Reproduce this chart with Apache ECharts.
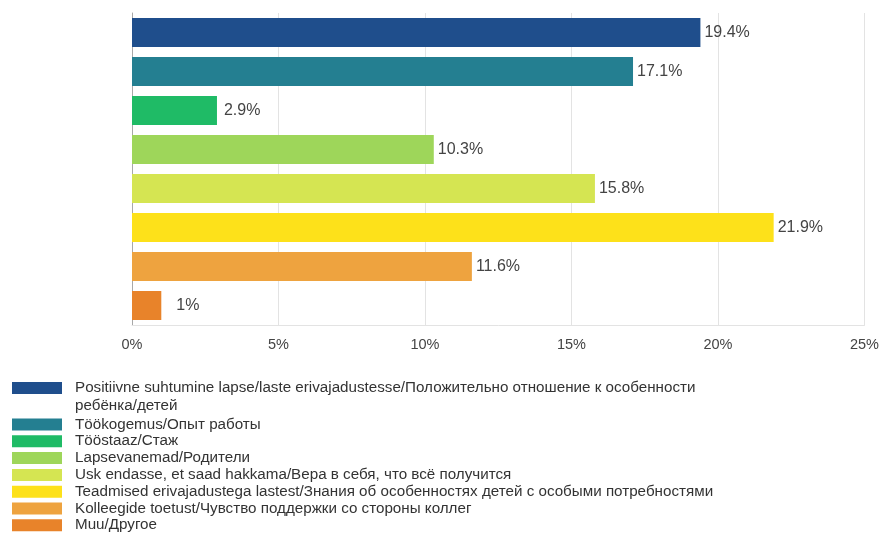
<!DOCTYPE html>
<html>
<head>
<meta charset="utf-8">
<script src="https://cdn.jsdelivr.net/npm/echarts@6/dist/echarts.min.js"></script>
<style>
  html, body { margin: 0; padding: 0; background: #ffffff; }
  #chart { width: 882px; height: 535px; }
</style>
</head>
<body>
<div id="chart"></div>
<script>
// Answer categories (one bar each), share of responses in percent
const categories = [
  'Positiivne suhtumine lapse/laste erivajadustesse/Положительно отношение к особенности ребёнка/детей',
  'Töökogemus/Опыт работы',
  'Tööstaaz/Стаж',
  'Lapsevanemad/Родители',
  'Usk endasse, et saad hakkama/Вера в себя, что всё получится',
  'Teadmised erivajadustega lastest/Знания об особенностях детей с особыми потребностями',
  'Kolleegide toetust/Чувство поддержки со стороны коллег',
  'Muu/Другое'
];
const values = [19.4, 17.1, 2.9, 10.3, 15.8, 21.9, 11.6, 1];
const colors = ['#1f4e8c', '#247f91', '#1fbb66', '#9ed65a', '#d5e552', '#fde11a', '#eea33f', '#e8832a'];
const xTicks = [0, 5, 10, 15, 20, 25];

const FONT = '"Liberation Sans", Arial, sans-serif';
// gap between bar end and its value label (short bars push the label out a bit more)
const labelGap = [4, 4, 7, 4, 4, 4, 4, 15];

// One series per category so each bar gets its own legend entry;
// a shared stack keeps every bar centred in its own row.
const series = categories.map((name, i) => ({
  name: name,
  type: 'bar',
  stack: 'all',
  barWidth: 29,
  itemStyle: { color: colors[i] },
  label: {
    show: true,
    position: 'right',
    distance: labelGap[i],
    formatter: p => p.value + '%',
    color: '#444',
    fontSize: 16,
    fontFamily: FONT
  },
  data: categories.map((c, j) => (j === i ? values[i] : '-'))
}));

const chart = echarts.init(document.getElementById('chart'), null, { renderer: 'canvas' });
chart.setOption({
  animation: false,
  backgroundColor: '#ffffff',
  grid: { left: 132, right: 15, top: 13, bottom: 210, containLabel: false },
  xAxis: {
    type: 'value',
    min: xTicks[0],
    max: xTicks[xTicks.length - 1],
    interval: 5,
    axisLine: { show: true, lineStyle: { color: '#e3e3e3' } },
    axisTick: { show: false },
    splitLine: { show: true, lineStyle: { color: '#e3e3e3' } },
    axisLabel: {
      formatter: '{value}%',
      color: '#444',
      fontSize: 14.5,
      fontFamily: FONT,
      margin: 12
    }
  },
  yAxis: {
    type: 'category',
    inverse: true,
    data: categories,
    axisLine: { show: true, lineStyle: { color: '#a8a8a8' } },
    axisTick: { show: false },
    axisLabel: { show: false },
    splitLine: { show: false }
  },
  legend: [
    {
      // first entry wraps onto a second line; the leading blank line keeps
      // the first text line level with the colour swatch
      data: [categories[0]],
      orient: 'vertical',
      left: 12,
      top: 361,
      padding: 0,
      itemWidth: 50,
      itemHeight: 12,
      icon: 'rect',
      selectedMode: false,
      formatter: () => '\nPositiivne suhtumine lapse/laste erivajadustesse/Положительно отношение к особенности\nребёнка/детей',
      textStyle: {
        color: '#333',
        fontSize: 15.2,
        fontFamily: FONT,
        lineHeight: 18,
        padding: [0, 0, 0, 8]
      }
    },
    {
      data: categories.slice(1),
      orient: 'vertical',
      left: 12,
      top: 417,
      height: 200,
      padding: 0,
      itemWidth: 50,
      itemHeight: 12,
      itemGap: 1.8,
      icon: 'rect',
      selectedMode: false,
      textStyle: {
        color: '#333',
        fontSize: 15.2,
        fontFamily: FONT,
        lineHeight: 12,
        padding: [0, 0, 0, 8]
      }
    }
  ],
  series: series
});
</script>
</body>
</html>
